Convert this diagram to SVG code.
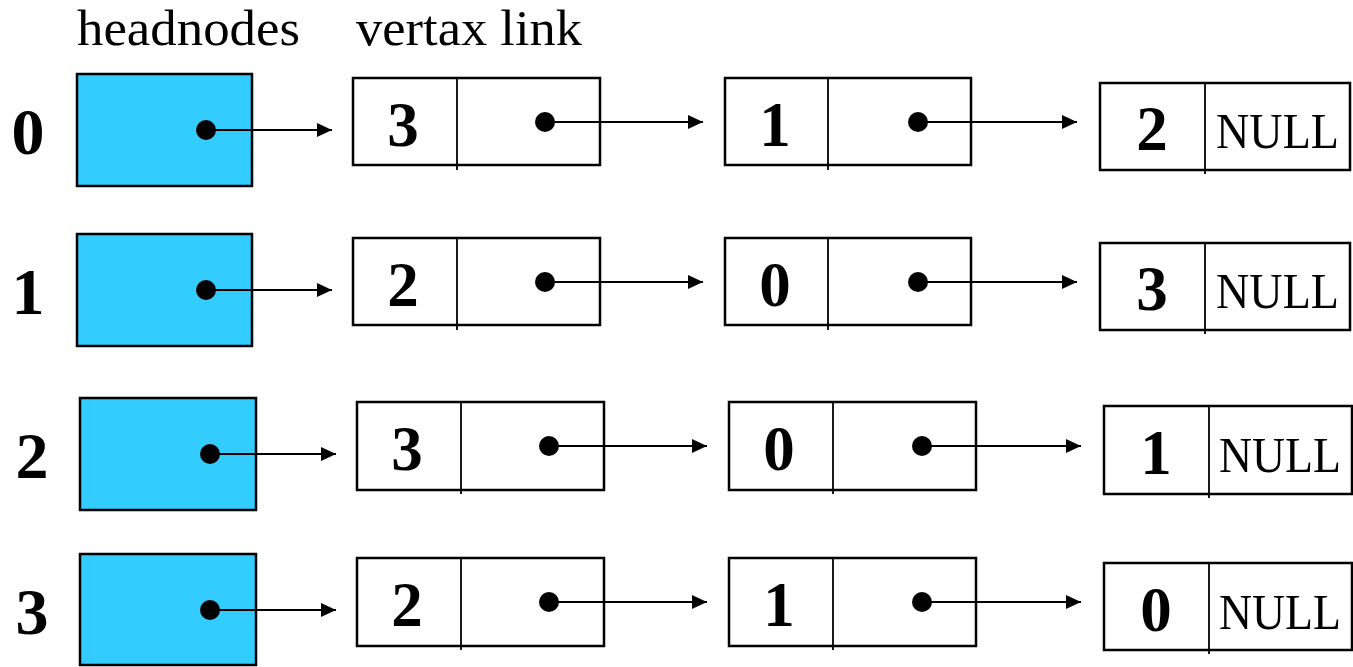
<svg xmlns="http://www.w3.org/2000/svg" width="1353" height="667" viewBox="0 0 1353 667">
  <style>
    .head { fill: #33ccff; stroke: #000; stroke-width: 2.5; }
    .box { fill: #fff; stroke: #000; stroke-width: 2.5; }
    .div { stroke: #000; stroke-width: 1.8; }
    .dot { fill: #000; }
    .link { stroke: #000; stroke-width: 2; fill: none; marker-end: url(#arrow); }
    .title { font-family: "Liberation Serif", "Times New Roman", serif; font-size: 51px; fill: #000; }
    .idx { font-family: "Liberation Serif", "Times New Roman", serif; font-size: 66px; font-weight: bold; fill: #000; text-anchor: middle; }
    .val { font-family: "Liberation Serif", "Times New Roman", serif; font-size: 63px; font-weight: bold; fill: #000; text-anchor: middle; }
    .null { font-family: "Liberation Serif", "Times New Roman", serif; font-size: 51px; fill: #000; }
  </style>
  <defs>
    <marker id="arrow" viewBox="0 0 15 14" refX="15" refY="7" markerWidth="15" markerHeight="14" markerUnits="userSpaceOnUse" orient="auto">
      <path d="M0,0 L15,7 L0,14 Z" fill="#000"/>
    </marker>
  </defs>
  <rect width="1353" height="667" fill="#fff"/>

  <text class="title" x="77" y="45" textLength="223" lengthAdjust="spacingAndGlyphs">headnodes</text>
  <text class="title" x="356" y="45" textLength="226" lengthAdjust="spacingAndGlyphs">vertax link</text>

  <!-- row 0 -->
  <g id="row0-head">
    <text class="idx" x="28" y="154">0</text>
    <rect class="head" x="77" y="74" width="175" height="112"/>
    <ellipse class="dot" cx="206" cy="130" rx="10" ry="10"/>
  </g>
  <g id="row0-n1">
    <rect class="box" x="353" y="78" width="247" height="87"/>
    <line class="div" x1="457" y1="78" x2="457" y2="170"/>
    <text class="val" x="403" y="146">3</text>
    <ellipse class="dot" cx="545" cy="122" rx="10" ry="10"/>
  </g>
  <g id="row0-n2">
    <rect class="box" x="725" y="78" width="246" height="87"/>
    <line class="div" x1="828" y1="78" x2="828" y2="170"/>
    <text class="val" x="775" y="146">1</text>
    <ellipse class="dot" cx="918" cy="122" rx="10" ry="10"/>
  </g>
  <g id="row0-n3">
    <rect class="box" x="1100" y="83" width="250" height="87"/>
    <line class="div" x1="1205" y1="83" x2="1205" y2="174"/>
    <text class="val" x="1152" y="150">2</text>
    <text class="null" x="1216" y="148" textLength="123" lengthAdjust="spacingAndGlyphs">NULL</text>
  </g>

  <!-- row 1 -->
  <g id="row1-head">
    <text class="idx" x="28" y="314">1</text>
    <rect class="head" x="77" y="234" width="175" height="112"/>
    <ellipse class="dot" cx="206" cy="290" rx="10" ry="10"/>
  </g>
  <g id="row1-n1">
    <rect class="box" x="353" y="238" width="247" height="87"/>
    <line class="div" x1="457" y1="238" x2="457" y2="330"/>
    <text class="val" x="403" y="306">2</text>
    <ellipse class="dot" cx="545" cy="282" rx="10" ry="10"/>
  </g>
  <g id="row1-n2">
    <rect class="box" x="725" y="238" width="246" height="87"/>
    <line class="div" x1="828" y1="238" x2="828" y2="330"/>
    <text class="val" x="775" y="306">0</text>
    <ellipse class="dot" cx="918" cy="282" rx="10" ry="10"/>
  </g>
  <g id="row1-n3">
    <rect class="box" x="1100" y="243" width="250" height="87"/>
    <line class="div" x1="1205" y1="243" x2="1205" y2="334"/>
    <text class="val" x="1152" y="310">3</text>
    <text class="null" x="1216" y="308" textLength="123" lengthAdjust="spacingAndGlyphs">NULL</text>
  </g>

  <!-- row 2 -->
  <g id="row2-head">
    <text class="idx" x="32" y="478">2</text>
    <rect class="head" x="80" y="398" width="176" height="112"/>
    <ellipse class="dot" cx="210" cy="454" rx="10" ry="10"/>
  </g>
  <g id="row2-n1">
    <rect class="box" x="357" y="402" width="247" height="88"/>
    <line class="div" x1="461" y1="402" x2="461" y2="494"/>
    <text class="val" x="407" y="470">3</text>
    <ellipse class="dot" cx="549" cy="446" rx="10" ry="10"/>
  </g>
  <g id="row2-n2">
    <rect class="box" x="729" y="402" width="247" height="88"/>
    <line class="div" x1="833" y1="402" x2="833" y2="494"/>
    <text class="val" x="779" y="470">0</text>
    <ellipse class="dot" cx="922" cy="446" rx="10" ry="10"/>
  </g>
  <g id="row2-n3">
    <rect class="box" x="1104" y="406" width="248" height="88"/>
    <line class="div" x1="1209" y1="406" x2="1209" y2="498"/>
    <text class="val" x="1156" y="474">1</text>
    <text class="null" x="1219" y="472" textLength="122" lengthAdjust="spacingAndGlyphs">NULL</text>
  </g>

  <!-- row 3 -->
  <g id="row3-head">
    <text class="idx" x="32" y="634">3</text>
    <rect class="head" x="80" y="554" width="176" height="111"/>
    <ellipse class="dot" cx="210" cy="610" rx="10" ry="10"/>
  </g>
  <g id="row3-n1">
    <rect class="box" x="357" y="558" width="247" height="88"/>
    <line class="div" x1="461" y1="558" x2="461" y2="650"/>
    <text class="val" x="407" y="626">2</text>
    <ellipse class="dot" cx="549" cy="602" rx="10" ry="10"/>
  </g>
  <g id="row3-n2">
    <rect class="box" x="729" y="558" width="247" height="88"/>
    <line class="div" x1="833" y1="558" x2="833" y2="650"/>
    <text class="val" x="779" y="626">1</text>
    <ellipse class="dot" cx="922" cy="602" rx="10" ry="10"/>
  </g>
  <g id="row3-n3">
    <rect class="box" x="1104" y="563" width="248" height="87"/>
    <line class="div" x1="1209" y1="563" x2="1209" y2="654"/>
    <text class="val" x="1156" y="631">0</text>
    <text class="null" x="1219" y="629" textLength="122" lengthAdjust="spacingAndGlyphs">NULL</text>
  </g>

  <!-- pointer connectors -->
  <g id="connectors">
    <line class="link" x1="206" y1="130" x2="332" y2="130"/>
    <line class="link" x1="545" y1="122" x2="703" y2="122"/>
    <line class="link" x1="918" y1="122" x2="1077" y2="122"/>
    <line class="link" x1="206" y1="290" x2="332" y2="290"/>
    <line class="link" x1="545" y1="282" x2="703" y2="282"/>
    <line class="link" x1="918" y1="282" x2="1077" y2="282"/>
    <line class="link" x1="210" y1="454" x2="336" y2="454"/>
    <line class="link" x1="549" y1="446" x2="707" y2="446"/>
    <line class="link" x1="922" y1="446" x2="1081" y2="446"/>
    <line class="link" x1="210" y1="610" x2="336" y2="610"/>
    <line class="link" x1="549" y1="602" x2="707" y2="602"/>
    <line class="link" x1="922" y1="602" x2="1081" y2="602"/>
  </g>
</svg>
